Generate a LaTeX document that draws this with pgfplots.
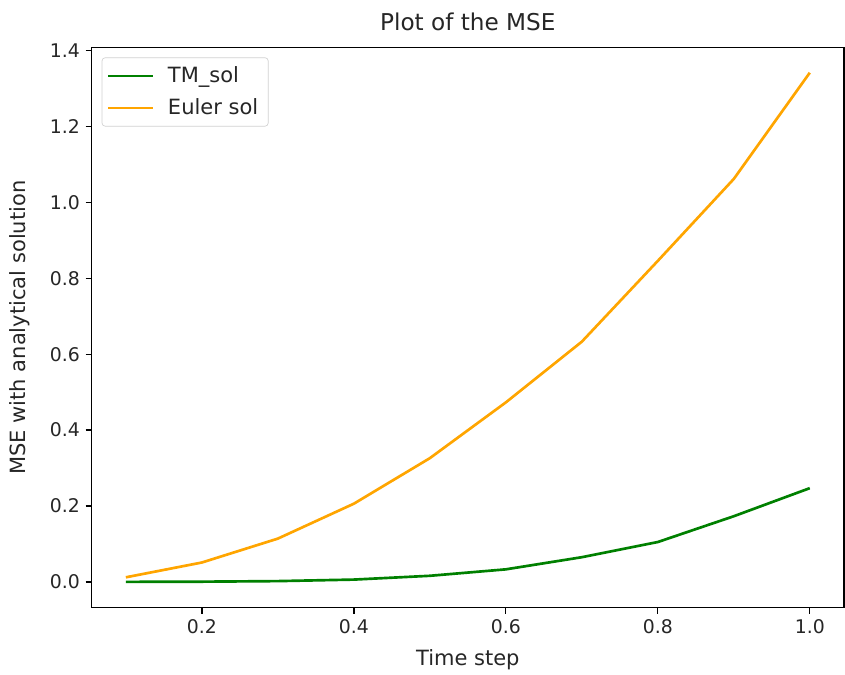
\documentclass[border=0pt]{standalone}
\usepackage{fontspec}
\setmainfont{DejaVu Sans}
\usepackage{pgfplots}
\pgfplotsset{compat=1.18}
\definecolor{mplgreen}{HTML}{008000}
\definecolor{mplorange}{HTML}{FFA500}
\definecolor{axgray}{HTML}{262626}
\begin{document}
\begin{tikzpicture}
\useasboundingbox (0,0) rectangle (507pt,405pt);
\begin{axis}[
  at={(55pt,40.4pt)}, anchor=south west,
  scale only axis,
  width=451.4pt, height=336pt,
  xmin=0.055, xmax=1.045,
  ymin=-0.068, ymax=1.408,
  xtick={0.2,0.4,0.6,0.8,1.0},
  ytick={0,0.2,0.4,0.6,0.8,1.0,1.2,1.4},
  xticklabels={0.2,0.4,0.6,0.8,1.0},
  yticklabels={0.0,0.2,0.4,0.6,0.8,1.0,1.2,1.4},
  tick align=outside,
  tick pos=left,
  major tick length=3.6pt,
  every tick/.style={black, line width=0.8pt},
  axis line style={black, line width=0.8pt},
  font=\fontsize{12.6pt}{15pt}\selectfont,
  ticklabel style={font=\fontsize{11.3pt}{13pt}\selectfont, text=axgray},
  /pgf/number format/assume math mode=true,
  title={Plot of the MSE},
  every axis title shift=0pt,
  title style={at={(axis description cs:0.5,1.0459)}, anchor=center, yshift=0pt, font=\fontsize{13.9pt}{16pt}\selectfont, text=axgray},
  xlabel={Time step},
  ylabel={MSE with analytical solution},
  xlabel style={at={(axis description cs:0.5,-0.0934)}, anchor=center, text=axgray},
  ylabel style={at={(axis description cs:-0.0953,0.5)}, anchor=center, rotate=0, text=axgray},
  legend style={at={(0,1)}, anchor=north west, xshift=6pt, yshift=-5.8pt,
    draw=black!18, rounded corners=2pt, fill=white, fill opacity=0.8, text opacity=1,
    font=\fontsize{12.6pt}{15pt}\selectfont, text=axgray,
    row sep=4pt, inner xsep=3pt, inner ysep=3.5pt,
    /tikz/every odd column/.append style={column sep=5pt},
    nodes={inner xsep=3pt}},
  legend cell align=left,
  legend image code/.code={\draw[#1] (0pt,0pt) -- (27pt,0pt);},
]
\addplot[mplgreen, line width=1.6pt] coordinates {
(0.1,0.0) (0.2,0.0005) (0.3,0.002) (0.4,0.006) (0.5,0.016) (0.6,0.033) (0.7,0.065) (0.8,0.105) (0.9,0.173) (1.0,0.247)};
\addlegendentry{TM\_sol}
\addplot[mplorange, line width=1.6pt] coordinates {
(0.1,0.012) (0.2,0.051) (0.3,0.114) (0.4,0.206) (0.5,0.326) (0.6,0.473) (0.7,0.633) (0.8,0.846) (0.9,1.062) (1.0,1.342)};
\addlegendentry{Euler sol}
\end{axis}
\end{tikzpicture}
\end{document}
